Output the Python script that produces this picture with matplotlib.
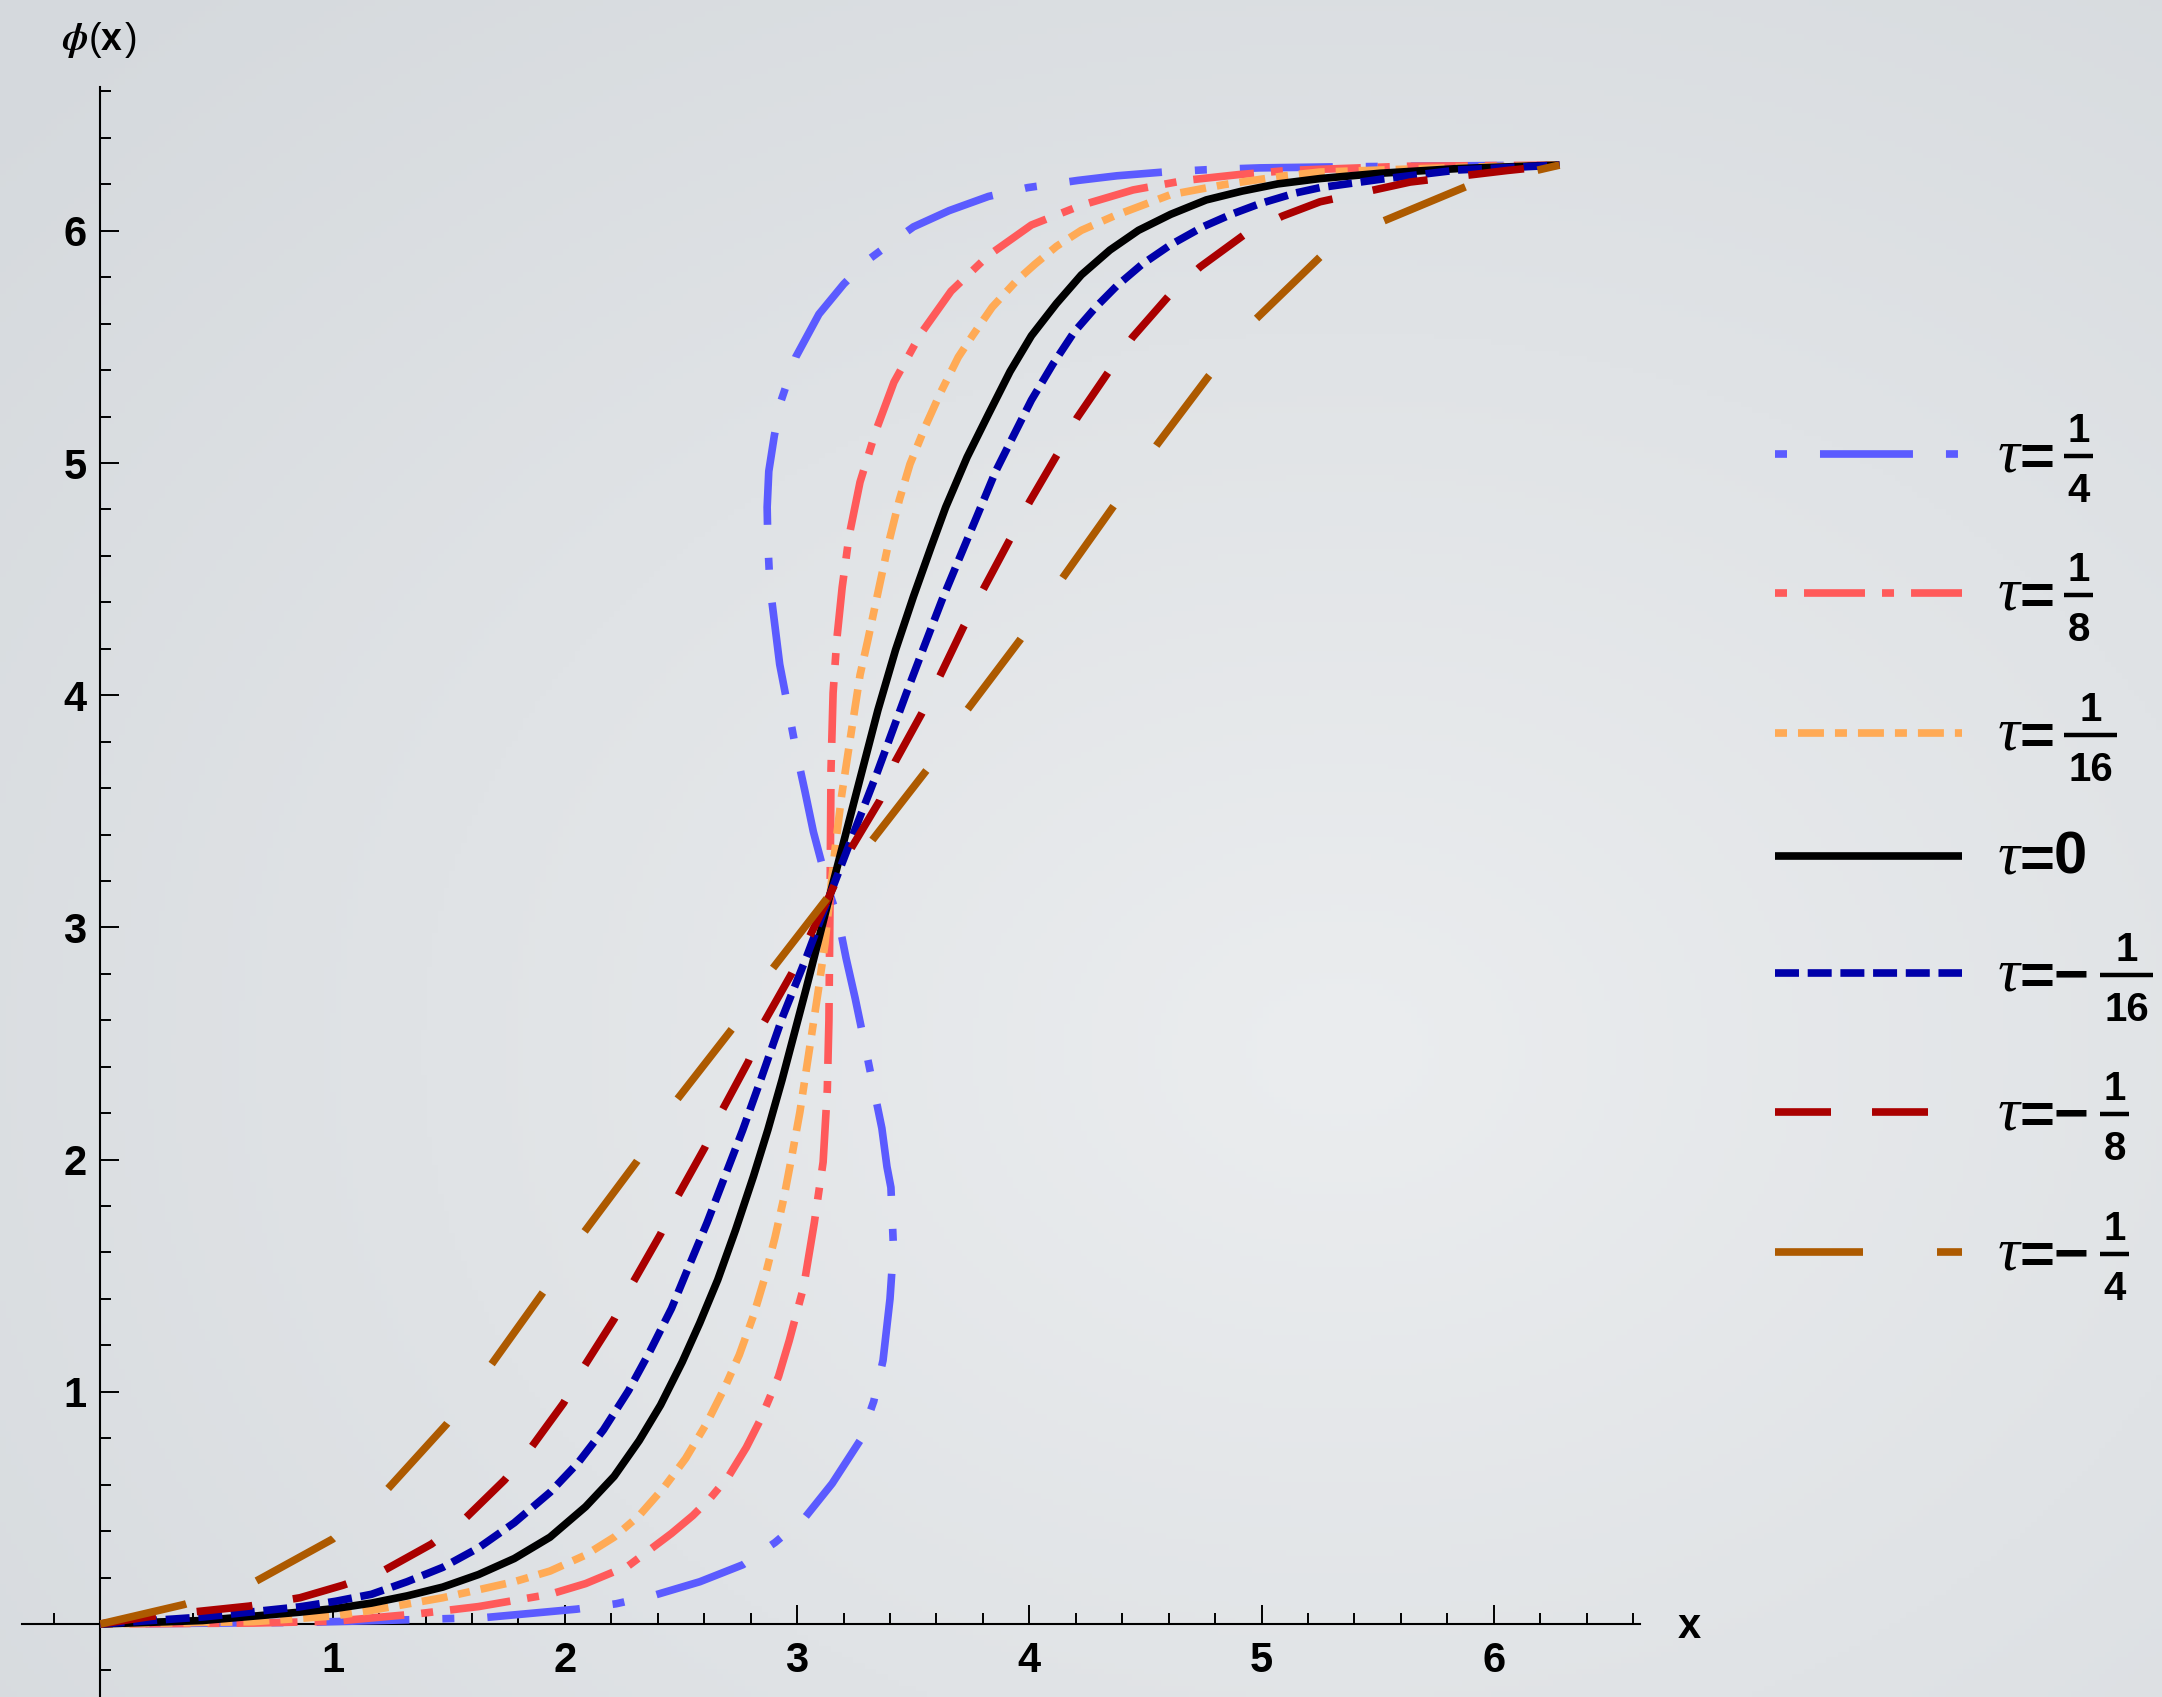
import numpy as np
import matplotlib.pyplot as plt
from matplotlib.lines import Line2D

plt.rcParams['mathtext.fontset'] = 'stix'
plt.rcParams['font.family'] = ['Liberation Sans', 'DejaVu Sans']
plt.rcParams['font.weight'] = 'bold'

# curves, (x, phi) pairs
tau_q4_x = [0, 0.88, 1.320, 1.659, 2.051, 2.220, 2.389, 2.581, 2.766, 2.905, 3.035, 3.151, 3.271, 3.33, 3.37,
            3.40, 3.415, 3.404, 3.387, 3.365, 3.325, 3.286, 3.250, 3.211, 3.178, 3.142,
            3.105, 3.070, 3.034, 2.998, 2.963, 2.925, 2.883, 2.874, 2.871, 2.878, 2.902, 2.932, 2.994, 3.094,
            3.201, 3.301, 3.394, 3.501, 3.655, 3.824, 3.993, 4.209, 4.378, 4.578, 4.763, 4.993, 5.29, 5.735, 6.283]
tau_q4_y = [0, 0.007, 0.018, 0.028, 0.064, 0.087, 0.125, 0.182, 0.255, 0.351, 0.460, 0.605, 0.790, 0.959, 1.135,
            1.40, 1.62, 1.88, 1.969, 2.135, 2.33, 2.522, 2.695, 2.867, 3.032, 3.142,
            3.28, 3.412, 3.585, 3.75, 3.936, 4.133, 4.472, 4.656, 4.810, 4.964, 5.118, 5.271, 5.456, 5.641,
            5.771, 5.871, 5.940, 6.017, 6.087, 6.148, 6.186, 6.217, 6.237, 6.253, 6.263, 6.271, 6.275, 6.279, 6.283]

tau_q8_x = [0, 0.66, 1.01, 1.367, 1.628, 1.936, 2.089, 2.274, 2.459, 2.551, 2.628, 2.705, 2.781, 2.843, 2.920,
            2.966, 3.028, 3.074, 3.112, 3.130, 3.137, 3.142, 3.146, 3.155, 3.171, 3.194, 3.224, 3.271, 3.340,
            3.417, 3.532, 3.663, 3.824, 4.009, 4.224, 4.447, 4.670, 4.901, 5.116, 5.62, 6.283]
tau_q8_y = [0, 0.004, 0.012, 0.044, 0.075, 0.128, 0.174, 0.251, 0.390, 0.467, 0.544, 0.636, 0.760, 0.882, 1.066,
            1.220, 1.451, 1.728, 1.989, 2.30, 2.60, 3.142, 3.68, 4.010, 4.241, 4.464, 4.687, 4.918, 5.141,
            5.348, 5.556, 5.740, 5.894, 6.025, 6.110, 6.176, 6.217, 6.242, 6.260, 6.278, 6.283]

tau_q16_x = [0, 0.66, 1.01, 1.167, 1.474, 1.782, 1.936, 2.089, 2.212, 2.320, 2.428, 2.520, 2.612, 2.689, 2.751,
             2.812, 2.858, 2.905, 2.943, 2.981, 3.012, 3.053, 3.092, 3.120, 3.142, 3.165, 3.192, 3.233, 3.271,
             3.303, 3.352, 3.395, 3.440, 3.486, 3.555, 3.617, 3.694, 3.755, 3.840, 3.947, 4.024, 4.117, 4.224,
             4.363, 4.609, 4.839, 5.101, 5.252, 5.846, 6.283]
tau_q16_y = [0, 0.01, 0.035, 0.059, 0.113, 0.182, 0.228, 0.297, 0.374, 0.467, 0.590, 0.713, 0.867, 1.020, 1.159,
             1.328, 1.482, 1.666, 1.835, 2.035, 2.205, 2.475, 2.733, 2.93, 3.142, 3.35, 3.57, 3.84, 4.087,
             4.23, 4.46, 4.66, 4.84, 4.995, 5.164, 5.302, 5.456, 5.548, 5.671, 5.787, 5.856, 5.933, 6.002,
             6.063, 6.156, 6.199, 6.237, 6.253, 6.273, 6.283]

tau_0_x = [0, 0.44, 0.859, 1.013, 1.167, 1.320, 1.474, 1.628, 1.782, 1.936, 2.089, 2.212, 2.320, 2.412, 2.505,
           2.581, 2.658, 2.735, 2.812, 2.874, 2.935, 3.040, 3.142, 3.245, 3.348, 3.424, 3.501, 3.578, 3.640,
           3.732, 3.824, 3.917, 4.009, 4.117, 4.224, 4.347, 4.470, 4.609, 4.762, 4.916, 5.070, 5.252, 5.513,
           5.846, 6.283]
tau_0_y = [0, 0.015, 0.051, 0.067, 0.090, 0.121, 0.159, 0.213, 0.282, 0.374, 0.505, 0.636, 0.790, 0.943, 1.128,
           1.297, 1.482, 1.697, 1.928, 2.128, 2.343, 2.74, 3.142, 3.54, 3.936, 4.195, 4.425, 4.641, 4.810,
           5.025, 5.210, 5.394, 5.548, 5.687, 5.810, 5.917, 6.002, 6.071, 6.133, 6.171, 6.202, 6.225, 6.248,
           6.268, 6.283]

tau_m16_x = [0, 0.44, 0.859, 1.013, 1.167, 1.320, 1.474, 1.628, 1.782, 1.936, 2.059, 2.166, 2.274, 2.366, 2.459,
             2.535, 2.612, 2.689, 2.766, 2.843, 2.938, 3.041, 3.142, 3.245, 3.346, 3.471, 3.547, 3.624, 3.701,
             3.778, 3.855, 3.932, 4.009, 4.101, 4.193, 4.286, 4.378, 4.486, 4.609, 4.747, 4.870, 4.993, 5.147,
             5.252, 5.513, 5.846, 6.283]
tau_m16_y = [0, 0.03, 0.074, 0.098, 0.128, 0.182, 0.244, 0.328, 0.436, 0.567, 0.697, 0.836, 1.005, 1.174, 1.359,
             1.543, 1.728, 1.928, 2.128, 2.343, 2.616, 2.874, 3.142, 3.41, 3.67, 4.010, 4.210, 4.410, 4.595,
             4.779, 4.964, 5.118, 5.271, 5.425, 5.564, 5.671, 5.764, 5.856, 5.940, 6.017, 6.071, 6.117, 6.163,
             6.186, 6.222, 6.262, 6.283]

tau_m8_x = [0, 0.22, 0.64, 0.859, 1.044, 1.216, 1.425, 1.570, 1.740, 1.854, 1.994, 2.085, 2.212, 2.292, 2.412,
            2.486, 2.602, 2.677, 2.790, 2.855, 2.977, 3.142, 3.228, 3.357, 3.422, 3.537, 3.617, 3.717, 3.806,
            3.917, 4.001, 4.121, 4.206, 4.340, 4.444, 4.601, 4.735, 4.924, 5.089, 5.252, 5.64, 6.06, 6.283]
tau_m8_y = [0, 0.033, 0.077, 0.113, 0.167, 0.228, 0.344, 0.454, 0.620, 0.759, 0.951, 1.113, 1.313, 1.469, 1.679,
            1.843, 2.051, 2.212, 2.422, 2.587, 2.802, 3.142, 3.333, 3.548, 3.713, 3.922, 4.087, 4.295, 4.464,
            4.672, 4.833, 5.038, 5.195, 5.391, 5.541, 5.720, 5.844, 5.982, 6.063, 6.125, 6.21, 6.26, 6.283]

tau_m4_x = [0, 0.36, 0.66, 1.00, 1.23, 1.49, 1.68, 1.90, 2.08, 2.31, 2.48, 2.72, 2.89, 3.142, 3.56, 3.732,
            3.960, 4.144, 4.360, 4.547, 4.770, 4.978, 5.252, 5.52, 5.88, 6.283]
tau_m4_y = [0, 0.084, 0.179, 0.366, 0.574, 0.86, 1.113, 1.42, 1.684, 1.992, 2.255, 2.563, 2.817, 3.142, 3.68,
            3.936, 4.238, 4.506, 4.810, 5.075, 5.371, 5.622, 5.887, 6.04, 6.19, 6.283]

x_ticks = [1, 2, 3, 4, 5, 6]
y_ticks = [1, 2, 3, 4, 5, 6]

# legend: (numerator, denominator, sign) for each tau
tau_labels = [('1', '4', ''), ('1', '8', ''), ('1', '16', ''), ('0', '', ''),
              ('1', '16', '-'), ('1', '8', '-'), ('1', '4', '-')]

series = [
    (tau_q4_x, tau_q4_y, '#5b5bff', (0, (1.57, 4.32, 12.17, 4.32))),
    (tau_q8_x, tau_q8_y, '#ff5a5a', (0, (1.57, 2.23, 7.98, 2.23))),
    (tau_q16_x, tau_q16_y, '#ffaa55', (0, (1.57, 1.44, 3.40, 1.44))),
    (tau_0_x, tau_0_y, '#000000', '-'),
    (tau_m16_x, tau_m16_y, '#0000aa', (0, (3.14, 1.14))),
    (tau_m8_x, tau_m8_y, '#aa0000', (0, (7.33, 5.37))),
    (tau_m4_x, tau_m4_y, '#ad5a00', (0, (11.52, 9.69))),
]

W, H = 2162, 1697
fig = plt.figure(figsize=(W / 100, H / 100), dpi=100)

# grey backdrop, lighter towards the middle
bg = fig.add_axes([0, 0, 1, 1], zorder=-1)
yy, xx = np.mgrid[0:1:300j, 0:1:380j]
r = np.clip(np.hypot(xx - 0.62, yy - 0.62) / 0.85, 0, 1)
c_in = np.array([235, 237, 239]) / 255
c_out = np.array([213, 217, 221]) / 255
img = c_in * (1 - r)[..., None] + c_out * r[..., None]
bg.imshow(img, extent=[0, 1, 0, 1], aspect='auto', origin='upper')
bg.axis('off')

ax = fig.add_axes([0, 0, 1, 1])
ax.patch.set_alpha(0)
ax.set_xlim(-0.4328, 8.878)
ax.set_ylim(-0.3144, 6.994)

for xs, ys, col, ls in series:
    ax.plot(xs, ys, color=col, lw=5.5, linestyle=ls, dash_capstyle='butt',
            solid_capstyle='butt', solid_joinstyle='round', zorder=3)

ax.spines['top'].set_visible(False)
ax.spines['right'].set_visible(False)
ax.spines['left'].set_position(('data', 0))
ax.spines['bottom'].set_position(('data', 0))
ax.spines['left'].set_bounds(-0.3144, 6.62)
ax.spines['bottom'].set_bounds(-0.34, 6.63)
for s in ('left', 'bottom'):
    ax.spines[s].set_linewidth(1.5)

minor = [v for v in np.round(np.arange(-0.2, 6.61, 0.2), 1) if abs(v - round(v)) > 1e-6]
ax.set_xticks(x_ticks)
ax.set_yticks(y_ticks)
ax.set_xticks(minor, minor=True)
ax.set_yticks(minor, minor=True)
ax.tick_params(which='major', direction='in', length=13.5, width=1.4, labelsize=30)
ax.tick_params(which='minor', direction='in', length=8, width=1.4)
ax.tick_params(axis='x', which='major', pad=12)
ax.tick_params(axis='y', which='major', pad=10)


def ftext(x, y, s, size, **kw):
    return fig.text(x / W, 1 - y / H, s, fontsize=size, **kw)


def fline(x0, x1, y, **kw):
    fig.add_artist(Line2D([x0 / W, x1 / W], [1 - y / H, 1 - y / H], transform=fig.transFigure, **kw))


# axis labels
ftext(62, 50, r'$\phi$', 28, va='baseline')
ftext(89, 50, '(', 27, va='baseline', fontweight='normal')
ftext(101, 50, 'x', 27, va='baseline')
ftext(125, 50, ')', 27, va='baseline', fontweight='normal')
ftext(1689, 1638, 'x', 30, va='baseline', ha='center')

# legend
rows = [454, 593, 733, 856, 973, 1112, 1252]
for (xs, ys, col, ls), (num, den, sign), row in zip(series, tau_labels, rows):
    fline(1775, 1962, row, color=col, lw=5.5, linestyle=ls, dash_capstyle='butt', solid_capstyle='butt')
    ftext(1998, row + 17, '\u03c4', 44, va='baseline', family='Liberation Serif',
          style='italic', fontweight='normal')
    ftext(2019, row + 21, '=', 43, va='baseline')
    if den == '':
        ftext(2054, row + 17, num, 43, va='baseline')
        continue
    bx0 = 2064
    if sign == '-':
        ftext(2054, row + 20, '\u2212', 43, va='baseline')
        bx0 = 2100
    bx1 = bx0 + (53 if len(den) == 2 else 29)
    fline(bx0, bx1, row + 2, color='black', lw=3.2, solid_capstyle='butt')
    xc = (bx0 + bx1) / 2
    ftext(xc, row - 12, num, 29, va='baseline', ha='center')
    ftext(xc, row + 48, den, 29, va='baseline', ha='center')

fig.savefig('out.png', dpi=100)
